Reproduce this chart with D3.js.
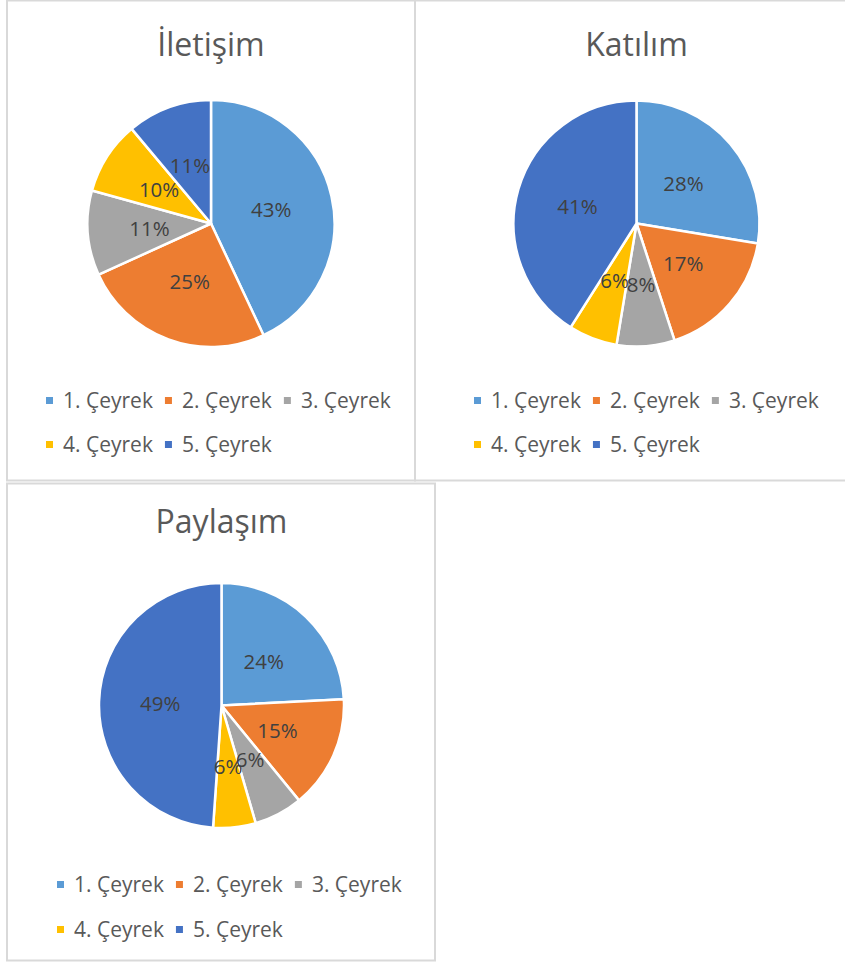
<!DOCTYPE html>
<html>
<head>
<meta charset="utf-8">
<script src="https://cdn.jsdelivr.net/npm/d3@7"></script>
<style>
  html, body { margin: 0; padding: 0; background: #fff; }
  svg { display: block; }
</style>
</head>
<body>
<svg id="chart" width="845" height="964"></svg>
<script>
// ---- data ----
const categories = ["1. Çeyrek", "2. Çeyrek", "3. Çeyrek", "4. Çeyrek", "5. Çeyrek"];
const titles = ["İletişim", "Katılım", "Paylaşım"];
const iletisimValues = [43.0, 25.2, 11.1, 9.6, 11.1];
const katilimValues = [27.6, 17.4, 7.6, 6.4, 41.0];
const paylasimValues = [24.2, 14.9, 6.4, 5.6, 48.9];
const colors = ["#5B9BD5", "#ED7D31", "#A5A5A5", "#FFC000", "#4472C4"];

// ---- layout ----
const panels = [
  { title: titles[0], values: iletisimValues, box: [7, 0.5, 415, 480.5], cx: 211, cy: 223.5, r: 123.5, titleY: 56, legY: [408, 452], legStart: 46 },
  { title: titles[1], values: katilimValues, box: [415, 0.5, 850, 480.5], cx: 636.5, cy: 223.5, r: 123, titleY: 56, legY: [408, 452], legStart: 474 },
  { title: titles[2], values: paylasimValues, box: [7, 483.5, 435, 960.5], cx: 221.5, cy: 705.5, r: 122.5, titleY: 533, legY: [892, 937], legStart: 57 }
];

const FONT = "'Open Sans', 'Noto Sans', sans-serif";
const svg = d3.select("#chart");

const color = d3.scaleOrdinal().domain(categories).range(colors);
const pie = d3.pie().sort(null).value(d => d.value);
const pct = d3.format(".0%");

panels.forEach(p => {
  const g = svg.append("g");
  const [x0, y0, x1, y1] = p.box;
  g.append("rect")
    .attr("x", x0).attr("y", y0)
    .attr("width", x1 - x0).attr("height", y1 - y0)
    .attr("fill", "#fff")
    .attr("stroke", "#d9d9d9")
    .attr("stroke-width", 2);

  g.append("text")
    .attr("x", p.cx).attr("y", p.titleY)
    .attr("text-anchor", "middle")
    .attr("font-family", FONT)
    .attr("font-size", 32)
    .attr("fill", "#595959")
    .text(p.title);

  const data = categories.map((c, i) => ({ cat: c, value: p.values[i] }));
  const total = d3.sum(data, d => d.value);
  const arcs = pie(data);
  const arc = d3.arc().innerRadius(0).outerRadius(p.r);
  const labelArc = d3.arc().innerRadius(p.r * 0.5).outerRadius(p.r * 0.5);

  const pg = g.append("g").attr("transform", `translate(${p.cx},${p.cy})`);
  pg.selectAll("path").data(arcs).join("path")
    .attr("d", arc)
    .attr("fill", d => color(d.data.cat))
    .attr("stroke", "#fff")
    .attr("stroke-width", 2.5)
    .attr("stroke-linejoin", "round");

  pg.selectAll("text").data(arcs).join("text")
    .attr("transform", d => `translate(${labelArc.centroid(d)})`)
    .attr("text-anchor", "middle")
    .attr("dy", "0.36em")
    .attr("font-family", FONT)
    .attr("font-size", 20.5)
    .attr("fill", "#404040")
    .text(d => pct(d.data.value / total));

  // legend
  const lg = g.append("g");
  const rows = [[0, 1, 2], [3, 4]];
  rows.forEach((row, ri) => {
    let x = p.legStart;
    row.forEach(i => {
      const y = p.legY[ri];
      lg.append("rect")
        .attr("x", x).attr("y", y - 11)
        .attr("width", 7).attr("height", 7)
        .attr("fill", colors[i]);
      const t = lg.append("text")
        .attr("x", x + 17).attr("y", y)
        .attr("font-family", FONT)
        .attr("font-size", 21)
        .attr("fill", "#595959")
        .text(categories[i]);
      const w = t.node().getComputedTextLength();
      x += 17 + w + 12;
    });
  });
});
</script>
</body>
</html>
